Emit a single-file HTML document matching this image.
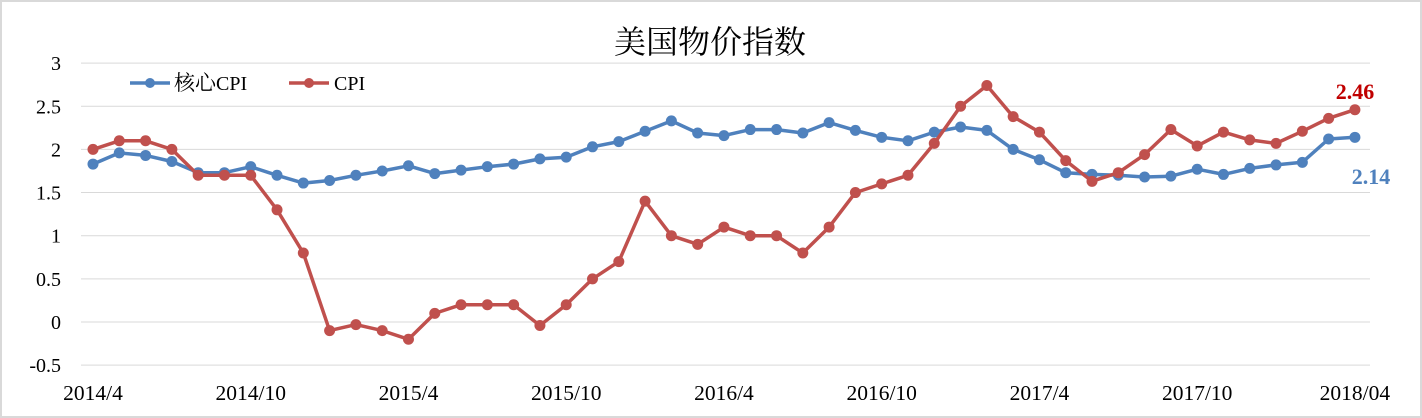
<!DOCTYPE html>
<html><head><meta charset="utf-8"><style>
body{margin:0;background:#fff}
svg{display:block}
text{font-family:"Liberation Serif","Noto Serif CJK SC",serif}
</style></head><body>
<svg id="s" width="1422" height="418" xmlns="http://www.w3.org/2000/svg">
<rect x="1" y="1" width="1420" height="416" fill="#fff" stroke="#d9d9d9" stroke-width="2"/>
<text x="710" y="53" font-size="32" text-anchor="middle" font-family="Liberation Sans,Noto Sans CJK SC,sans-serif" fill="#000">美国物价指数</text>
<g id="g"></g>
<g font-size="20" fill="#000">
<line x1="130" y1="83" x2="170" y2="83" stroke="#4f81bd" stroke-width="3.5"/><circle cx="150" cy="83" r="5" fill="#4f81bd"/>
<text x="174" y="90"><tspan font-size="21">核心</tspan>CPI</text>
<line x1="289" y1="83" x2="329" y2="83" stroke="#c0504d" stroke-width="3.5"/><circle cx="309" cy="83" r="5" fill="#c0504d"/>
<text x="334" y="90">CPI</text>
</g>
<text x="1355" y="99" font-size="22" font-weight="bold" fill="#c00000" text-anchor="middle">2.46</text>
<text x="1371" y="184" font-size="22" font-weight="bold" fill="#4f81bd" text-anchor="middle">2.14</text>
</svg>
<script>
var g=document.getElementById('g'),h='';
function Y(v){return 322-v*86.3}
function X(i){return 93+i*26.29}
[3,2.5,2,1.5,1,0.5,0,-0.5].forEach(function(v){
 h+='<line x1="81" x2="1370" y1="'+Y(v)+'" y2="'+Y(v)+'" stroke="#d9d9d9" stroke-width="1"/>';
 h+='<text x="61" y="'+(Y(v)+7)+'" font-size="20" text-anchor="end">'+v+'</text>';
});
var lb=['2014/4','2014/10','2015/4','2015/10','2016/4','2016/10','2017/4','2017/10','2018/04'];
lb.forEach(function(l,k){h+='<text x="'+X(k*6)+'" y="400" font-size="21.5" text-anchor="middle">'+l+'</text>';});
var cpi=[2.0,2.1,2.1,2.0,1.7,1.7,1.7,1.3,0.8,-0.1,-0.03,-0.1,-0.2,0.1,0.2,0.2,0.2,-0.04,0.2,0.5,0.7,1.4,1.0,0.9,1.1,1.0,1.0,0.8,1.1,1.5,1.6,1.7,2.07,2.5,2.74,2.38,2.2,1.87,1.63,1.73,1.94,2.23,2.04,2.2,2.11,2.07,2.21,2.36,2.46];
var core=[1.83,1.96,1.93,1.86,1.73,1.73,1.80,1.70,1.61,1.64,1.70,1.75,1.81,1.72,1.76,1.80,1.83,1.89,1.91,2.03,2.09,2.21,2.33,2.19,2.16,2.23,2.23,2.19,2.31,2.22,2.14,2.10,2.20,2.26,2.22,2.00,1.88,1.73,1.71,1.70,1.68,1.69,1.77,1.71,1.78,1.82,1.85,2.12,2.14];
function ser(d,c){var p=d.map(function(v,i){return X(i).toFixed(1)+','+Y(v).toFixed(1)}).join(' ');
 h+='<polyline points="'+p+'" fill="none" stroke="'+c+'" stroke-width="3.5" stroke-linejoin="round"/>';
 d.forEach(function(v,i){h+='<circle cx="'+X(i)+'" cy="'+Y(v)+'" r="5.5" fill="'+c+'"/>';});}
ser(core,'#4f81bd');ser(cpi,'#c0504d');
g.innerHTML=h;
</script>
</body></html>
